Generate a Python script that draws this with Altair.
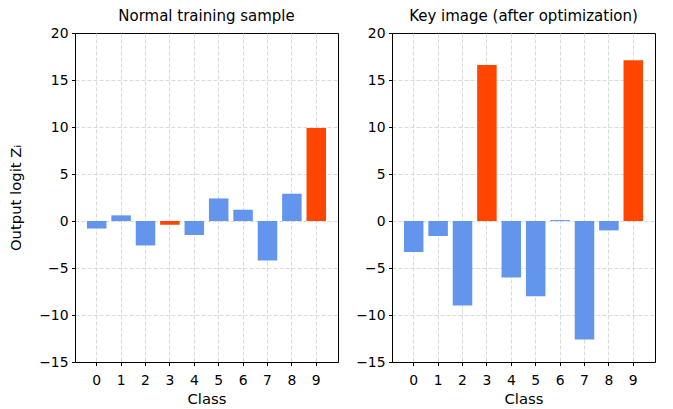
import altair as alt
import pandas as pd

classes = list(range(10))
normal_logits = [-0.8, 0.6, -2.6, -0.4, -1.5, 2.4, 1.2, -4.2, 2.9, 9.9]
key_logits = [-3.3, -1.6, -9.0, 16.6, -6.0, -8.0, 0.1, -12.6, -1.0, 17.1]
normal_highlight = [3, 9]
key_highlight = [3, 9]
y_ticks = [-15, -10, -5, 0, 5, 10, 15, 20]

BLUE = "#6495ED"
RED = "#FF4500"
FONT = "DejaVu Sans"


def panel(values, highlight, title, ytitle):
    df = pd.DataFrame({
        "Class": classes,
        "logit": values,
        "kind": ["hl" if c in highlight else "base" for c in classes],
    })
    grid_op = alt.condition("datum.value == 20", alt.value(0), alt.value(1))
    if ytitle:
        yaxis = alt.Axis(values=y_ticks, title=ytitle, titlePadding=15, gridOpacity=grid_op)
    else:
        yaxis = alt.Axis(values=y_ticks, title=None, gridOpacity=grid_op)
    return alt.Chart(
        df,
        title=alt.TitleParams(title, fontSize=15, fontWeight="normal", font=FONT,
                              color="black", offset=2, frame="group"),
    ).mark_bar().encode(
        x=alt.X("Class:O",
                scale=alt.Scale(paddingInner=0.2, paddingOuter=0.49),
                axis=alt.Axis(labelAngle=0, grid=True, bandPosition=0.5, title="Class",
                              labelPadding=8, titlePadding=4)),
        y=alt.Y("logit:Q", scale=alt.Scale(domain=[-15, 20], nice=False), axis=yaxis),
        color=alt.Color("kind:N", scale=alt.Scale(domain=["base", "hl"], range=[BLUE, RED]),
                        legend=None),
    ).properties(width=263, height=329)


left = panel(normal_logits, normal_highlight, "Normal training sample", "Output logit Zᵢ")
right = panel(key_logits, key_highlight, "Key image (after optimization)", None)

chart = alt.hconcat(left, right, spacing=16).properties(
    padding={"left": 0, "top": 0, "right": 0, "bottom": 0}
).configure_view(
    stroke="black", strokeWidth=1
).configure_axis(
    labelFont=FONT, labelFontSize=13.9, labelColor="black",
    titleFont=FONT, titleFontSize=14.8, titleColor="black", titleFontWeight="normal",
    domainColor="black", tickColor="black", tickSize=3.5, labelPadding=3.5,
    gridColor="#d0d0d0", gridDash=[4, 2], gridWidth=0.8,
)

chart.save("out.html", embed_options={"renderer": "svg", "actions": False})
